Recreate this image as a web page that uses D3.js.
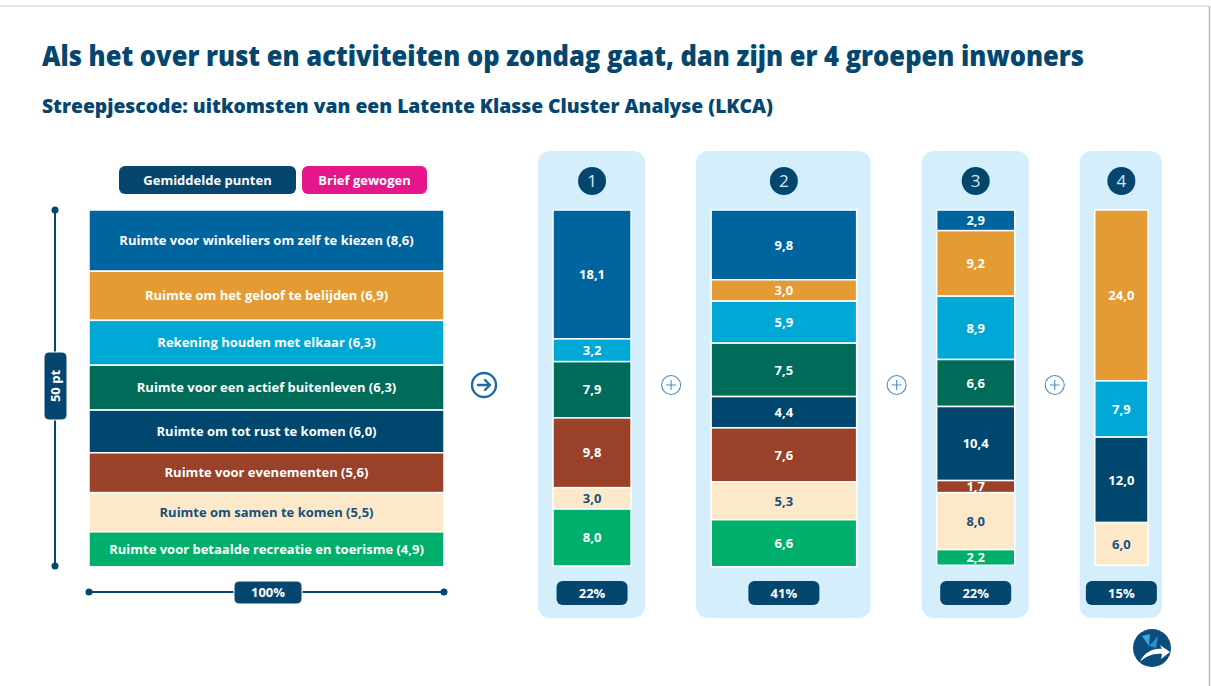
<!DOCTYPE html>
<html>
<head>
<meta charset="utf-8">
<script src="https://cdn.jsdelivr.net/npm/d3@7"></script>
<style>
  html, body { margin: 0; padding: 0; background: #fff; }
  svg { display: block; font-family: "Open Sans", Lato, sans-serif; }
</style>
</head>
<body>
<svg id="chart" width="1211" height="686"></svg>
<script>
// ---------------- DATA ----------------
const title = "Als het over rust en activiteiten op zondag gaat, dan zijn er 4 groepen inwoners";
const subtitle = "Streepjescode: uitkomsten van een Latente Klasse Cluster Analyse (LKCA)";
const categories = [
  "Ruimte voor winkeliers om zelf te kiezen",
  "Ruimte om het geloof te belijden",
  "Rekening houden met elkaar",
  "Ruimte voor een actief buitenleven",
  "Ruimte om tot rust te komen",
  "Ruimte voor evenementen",
  "Ruimte om samen te komen",
  "Ruimte voor betaalde recreatie en toerisme"
];
const overall = [8.6, 6.9, 6.3, 6.3, 6.0, 5.6, 5.5, 4.9];
const cluster1 = [18.1, 0, 3.2, 7.9, 0, 9.8, 3.0, 8.0];
const cluster2 = [9.8, 3.0, 5.9, 7.5, 4.4, 7.6, 5.3, 6.6];
const cluster3 = [2.9, 9.2, 8.9, 6.6, 10.4, 1.7, 8.0, 2.2];
const cluster4 = [0, 24.0, 7.9, 0, 12.0, 0, 6.0, 0];
const clusterNames = ["1", "2", "3", "4"];
const clusterShares = [22, 41, 22, 15];
const legendLabels = ["Gemiddelde punten", "Brief gewogen"];
const axisLabels = ["50 pt", "100%"];
const totalPoints = 50;

// ---------------- STYLE ----------------
const colors = ["#00659F", "#E49B33", "#00A8D6", "#006B58", "#00476F", "#9A412A", "#FDE9C9", "#00AF6B"];
const navy = "#05466F";
const magenta = "#E5168A";
const panelBg = "#D5EEFC";
const fmt = v => d3.format(".1f")(v).replace(".", ",");
const textColor = i => i === 6 ? "#15507C" : "#fff";

const svg = d3.select("#chart");

// frame lines
svg.append("line").attr("x1", 0).attr("x2", 1209).attr("y1", 6).attr("y2", 6)
  .attr("stroke", "#dcdcdc").attr("stroke-width", 1.5);
svg.append("line").attr("x1", 1209.5).attr("x2", 1209.5).attr("y1", 6).attr("y2", 686)
  .attr("stroke", "#b8b8b8").attr("stroke-width", 1.5);

// titles
svg.append("text").attr("x", 42).attr("y", 66).text(title)
  .attr("fill", navy).attr("font-size", 28).attr("font-weight", 800)
  .attr("textLength", 1042).attr("lengthAdjust", "spacingAndGlyphs");
svg.append("text").attr("x", 42).attr("y", 113).text(subtitle)
  .attr("fill", navy).attr("font-size", 20).attr("font-weight", 800)
  .attr("textLength", 731).attr("lengthAdjust", "spacingAndGlyphs");

// ---------------- SCALES ----------------
const yTop = 210, yBottom = 566;
const y = d3.scaleLinear().domain([0, totalPoints]).range([yTop, yBottom]);
const w = d3.scaleLinear().domain([0, 100]).range([0, 355]);
const leftX = 89;

function stack(vals) {
  let acc = 0;
  return vals.map((v, i) => { const s = acc; acc += v; return { i, v, y0: s, y1: acc }; });
}

// ---------------- LEFT STACK ----------------
const gL = svg.append("g");
const leftSegs = stack(overall);
gL.selectAll("rect").data(leftSegs).join("rect")
  .attr("x", leftX).attr("width", w(100))
  .attr("y", d => y(d.y0)).attr("height", d => y(d.y1) - y(d.y0))
  .attr("fill", d => colors[d.i]).attr("stroke", "#fff").attr("stroke-width", 1.5);
gL.selectAll("text").data(leftSegs).join("text")
  .attr("x", leftX + w(100) / 2).attr("y", d => (y(d.y0) + y(d.y1)) / 2)
  .attr("dy", "0.36em").attr("text-anchor", "middle")
  .attr("font-size", 13).attr("font-weight", 700)
  .attr("fill", d => textColor(d.i))
  .text(d => `${categories[d.i]} (${fmt(d.v)})`);

// legend buttons
const legendBoxes = [{ x: 119, w: 177, c: navy }, { x: 302, w: 125, c: magenta }];
legendBoxes.forEach((b, k) => {
  svg.append("rect").attr("x", b.x).attr("y", 166).attr("width", b.w).attr("height", 28)
    .attr("rx", 6).attr("fill", b.c);
  svg.append("text").attr("x", b.x + b.w / 2).attr("y", 180).attr("dy", "0.36em")
    .attr("text-anchor", "middle").attr("fill", "#fff").attr("font-size", 13).attr("font-weight", 700)
    .text(legendLabels[k]);
});

// vertical axis (50 pt)
svg.append("line").attr("x1", 55).attr("x2", 55).attr("y1", y(0)).attr("y2", y(totalPoints))
  .attr("stroke", navy).attr("stroke-width", 2);
[y(0), y(totalPoints)].forEach(cy => svg.append("circle").attr("cx", 55).attr("cy", cy).attr("r", 3.5).attr("fill", navy));
svg.append("rect").attr("x", 44).attr("y", 352).attr("width", 23).attr("height", 68).attr("rx", 5)
  .attr("fill", navy).attr("stroke", "#fff").attr("stroke-width", 1);
svg.append("text").attr("transform", "translate(55.5,386) rotate(-90)").attr("dy", "0.36em")
  .attr("text-anchor", "middle").attr("fill", "#fff").attr("font-size", 13).attr("font-weight", 700)
  .text(axisLabels[0]);

// horizontal axis (100%)
svg.append("line").attr("x1", leftX).attr("x2", leftX + w(100)).attr("y1", 592).attr("y2", 592)
  .attr("stroke", navy).attr("stroke-width", 2);
[leftX, leftX + w(100)].forEach(cx => svg.append("circle").attr("cx", cx).attr("cy", 592).attr("r", 3.5).attr("fill", navy));
svg.append("rect").attr("x", 234).attr("y", 581).attr("width", 68).attr("height", 23).attr("rx", 5)
  .attr("fill", navy).attr("stroke", "#fff").attr("stroke-width", 1);
svg.append("text").attr("x", 268).attr("y", 592.5).attr("dy", "0.36em")
  .attr("text-anchor", "middle").attr("fill", "#fff").attr("font-size", 13).attr("font-weight", 700)
  .text(axisLabels[1]);

// arrow icon
const arrow = svg.append("g").attr("transform", "translate(484,385)")
  .attr("fill", "none").attr("stroke", "#1D6AA6").attr("stroke-width", 2.4).attr("stroke-linecap", "round").attr("stroke-linejoin", "round");
arrow.append("circle").attr("r", 12);
arrow.append("path").attr("d", "M-6,0 H6 M1,-5 L6,0 L1,5");

// ---------------- CLUSTERS ----------------
const clusters = [cluster1, cluster2, cluster3, cluster4];
const gap = 80;
let cx0 = 553;
const layout = clusterShares.map(s => { const x = cx0; cx0 += w(s) + gap; return { x, width: w(s) }; });

clusters.forEach((vals, k) => {
  const L = layout[k];
  const g = svg.append("g");
  g.append("rect").attr("x", L.x - 15).attr("y", 151).attr("width", L.width + 29).attr("height", 467)
    .attr("rx", 12).attr("fill", panelBg);
  const segs = stack(vals).filter(d => d.v > 0);
  g.selectAll("rect.seg").data(segs).join("rect").attr("class", "seg")
    .attr("x", L.x).attr("width", L.width)
    .attr("y", d => y(d.y0)).attr("height", d => y(d.y1) - y(d.y0))
    .attr("fill", d => colors[d.i]).attr("stroke", "#fff").attr("stroke-width", 1.5);
  g.selectAll("text.val").data(segs).join("text").attr("class", "val")
    .attr("x", L.x + L.width / 2).attr("y", d => (y(d.y0) + y(d.y1)) / 2)
    .attr("dy", "0.36em").attr("text-anchor", "middle")
    .attr("font-size", 13).attr("font-weight", 700)
    .attr("fill", d => textColor(d.i))
    .text(d => fmt(d.v));
  // number circle
  const cx = L.x + L.width / 2;
  g.append("circle").attr("cx", cx).attr("cy", 181).attr("r", 14).attr("fill", navy);
  g.append("text").attr("x", cx).attr("y", 181).attr("dy", "0.36em").attr("text-anchor", "middle")
    .attr("fill", "#d6eaf7").attr("font-size", 17).attr("font-weight", 400).text(clusterNames[k]);
  // share box
  g.append("rect").attr("x", cx - 35.5).attr("y", 581).attr("width", 71).attr("height", 24).attr("rx", 6)
    .attr("fill", navy);
  g.append("text").attr("x", cx).attr("y", 593).attr("dy", "0.36em").attr("text-anchor", "middle")
    .attr("fill", "#fff").attr("font-size", 13).attr("font-weight", 700).text(clusterShares[k] + "%");
  // plus icons between clusters
  if (k < clusters.length - 1) {
    const px = L.x + L.width + gap / 2;
    const p = svg.append("g").attr("transform", `translate(${px},385)`)
      .attr("fill", "none").attr("stroke", "#4B8DC2").attr("stroke-width", 1.1);
    p.append("circle").attr("r", 9.5);
    p.append("path").attr("d", "M-5,0 H5 M0,-5 V5");
  }
});

// ---------------- LOGO ----------------
const logo = svg.append("g").attr("transform", "translate(1152,648)");
logo.append("circle").attr("r", 19).attr("fill", "#0A4D7C");
logo.append("path").attr("d", "M-10,-12 L-3,-2 L-2,-14 Z").attr("fill", "#35A9E1");
logo.append("path").attr("d", "M-3,-2 L6,-12 L4,0 Z").attr("fill", "#2B8FCC");
logo.append("path").attr("d", "M-12,14 C-8,4 2,0 10,1 L8,-3 L18,4 L9,11 L10,6 C2,5 -6,8 -12,14 Z").attr("fill", "#fff");
</script>
</body>
</html>
